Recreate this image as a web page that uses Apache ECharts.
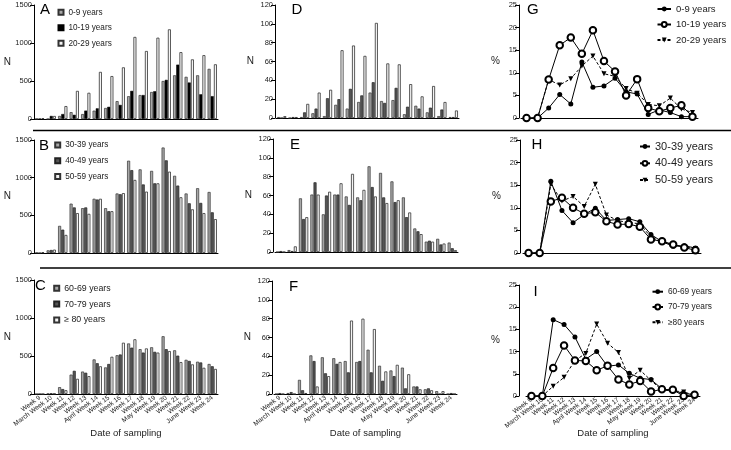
<!DOCTYPE html>
<html><head><meta charset="utf-8">
<script src="https://cdn.jsdelivr.net/npm/echarts@6/dist/echarts.min.js"></script>
<style>html,body{margin:0;padding:0;background:#fff;}#c{width:731px;height:450px;}</style>
</head><body><div id="c"></div>
<script>
const weeks = ["Week 9","March Week 10","Week 11","Week 12","Week 13","April Week 14","Week 15","Week 16","Week 17","Week 18","May Week 19","Week 20","Week 21","Week 22","June Week 23","Week 24"];

// Panel A (N)
const a0_9   = [3,0,40,90,65,110,145,235,300,315,355,500,575,555,575,660];
const a10_19 = [5,40,65,55,110,140,160,185,370,315,365,515,715,480,325,300];
const a20_29 = [10,40,170,370,345,620,565,680,1080,895,1070,1180,880,785,840,720];
// Panel B (N)
const b30_39 = [5,35,360,655,595,720,595,790,1225,1110,1090,1400,1025,790,860,810];
const b40_49 = [0,40,310,605,605,710,555,780,1100,910,925,1230,895,660,665,540];
const b50_59 = [10,45,240,530,520,720,555,795,970,815,925,1080,740,580,530,450];
// Panel C (N)
const c60_69 = [0,5,90,255,295,455,350,510,665,590,615,760,575,450,425,395];
const c70_79 = [0,10,65,305,280,405,395,520,610,545,555,590,505,435,415,365];
const c80    = [0,5,50,200,235,365,490,675,720,600,545,565,420,390,345,330];
// Panel D (N)
const d1 = [1,0,1,5,2,14,10,17,27,18,19,4,13,6,2,1];
const d2 = [0,1,6,10,21,20,31,24,38,16,32,12,10,11,9,1];
const d3 = [2,1,15,27,30,72,77,66,101,58,57,36,23,34,17,8];
// Panel E (N)
const e1 = [0,2,57,61,40,61,59,58,91,84,75,58,25,11,14,10];
const e2 = [1,1,35,74,60,61,50,55,69,58,53,37,22,12,8,4];
const e3 = [0,6,37,61,64,73,83,66,59,52,55,42,19,11,9,2];
// Panel F (N)
const f1 = [0,1,15,41,39,38,35,34,47,30,25,28,8,5,3,0];
const f2 = [1,2,4,35,22,32,23,35,23,14,19,6,8,6,0,1];
const f3 = [0,0,1,8,19,34,78,80,69,24,31,21,5,4,3,0];
// Panel G (%)
const g0_9   = [0,0,2.2,5.2,3.1,12.4,6.8,7.1,8.8,5.8,5.3,0.8,1.8,1.2,0.3,0.3];
const g10_19 = [0,0,8.5,16.1,17.8,14.2,19.4,12.6,10.3,5.0,8.6,2.2,1.5,2.2,2.8,0.3];
const g20_29 = [0,0,8.5,7.3,8.7,11.5,13.7,9.8,9.2,6.5,5.5,3.0,2.7,4.4,2.0,1.2];
// Panel H (%)
const h30_39 = [0,0,15.9,9.4,6.7,8.5,9.9,7.2,7.4,7.6,6.9,4.1,2.5,1.5,1.6,1.1];
const h40_49 = [0,0,11.4,12.2,10.0,8.7,9.0,7.0,6.3,6.4,5.8,3.0,2.6,1.9,1.2,0.6];
const h50_59 = [0,0,15.2,11.5,12.5,10.3,15.2,8.4,7.2,6.7,6.5,3.5,2.5,1.8,1.4,1.0];
// Panel I (%)
const i60_69 = [0,0,17.2,16.1,13.3,8.3,10.0,6.7,7.0,5.1,4.0,3.7,1.6,1.2,0.6,0.3];
const i70_79 = [0,0,6.3,11.4,8.0,7.9,5.8,6.8,3.7,2.6,3.4,1.0,1.5,1.4,0.0,0.3];
const i80    = [0,0,2.2,4.2,8.0,9.6,16.2,11.9,9.8,4.0,5.8,3.5,1.3,1.2,0.9,0.2];

const yTicksN = [0,1500,500];
const yTicksD = [0,120,20];
const yTicksP = [0,25,5];

const FONT = '"Liberation Sans", Arial, sans-serif';
const TXT = '#222';

const panels = [
  {k:'A', grid:{left:34,top:5,width:184,height:114}, y:yTicksN, yname:'N', nameGap:23, off:0, bottom:false},
  {k:'B', grid:{left:34,top:140,width:184,height:113}, y:yTicksN, yname:'N', nameGap:23, off:0, bottom:false},
  {k:'C', grid:{left:34,top:280,width:184,height:114}, y:yTicksN, yname:'N', nameGap:23, off:0, bottom:true},
  {k:'D', grid:{left:276,top:5,width:183,height:113}, y:yTicksD, yname:'N', nameGap:21, off:1, bottom:false},
  {k:'E', grid:{left:275,top:139,width:183,height:113}, y:yTicksD, yname:'N', nameGap:21, off:2, bottom:false},
  {k:'F', grid:{left:274,top:281,width:183,height:113}, y:yTicksD, yname:'N', nameGap:21, off:2, bottom:true},
  {k:'G', grid:{left:521,top:5,width:177,height:113}, y:yTicksP, yname:'%', nameGap:19, off:2, bottom:false},
  {k:'H', grid:{left:523,top:140,width:178,height:113}, y:yTicksP, yname:'%', nameGap:19, off:3, bottom:false},
  {k:'I', grid:{left:526,top:285,width:174,height:111}, y:yTicksP, yname:'%', nameGap:19, off:7, bottom:true}
];

const xAxes = panels.map((p,i)=>({
  gridIndex:i, type:'category', data:weeks, boundaryGap:true,
  axisLine:{lineStyle:{color:'#000',width:1}},
  axisTick:{alignWithLabel:true,length:4,lineStyle:{color:'#000'}},
  axisLabel: p.bottom ? {show:true, interval:0, rotate:37, fontSize:6.6, color:TXT, margin:3, fontFamily:FONT} : {show:false},
  splitLine:{show:false},
  name: p.bottom ? 'Date of sampling' : '', nameLocation:'middle', nameGap:(i===8?32:34), nameMoveOverlap:false,
  nameTextStyle:{fontSize:9.5,color:TXT,fontFamily:FONT}
}));
const yAxes = panels.map((p,i)=>({
  gridIndex:i, type:'value', min:p.y[0], max:p.y[1], interval:p.y[2], offset:p.off,
  axisLine:{show:true,lineStyle:{color:'#000',width:1}},
  axisTick:{show:true,length:4,lineStyle:{color:'#000'}},
  axisLabel:{fontSize:7.5,color:TXT,margin:2,fontFamily:FONT, formatter:v=>String(v)},
  splitLine:{show:false},
  name:p.yname, nameLocation:'middle', nameRotate:0, nameGap:p.nameGap, nameMoveOverlap:false,
  nameTextStyle:{fontSize:10,color:TXT,fontFamily:FONT}
}));

const C1 = {color:'#a8a8a8', borderColor:'#333', borderWidth:0.7};
const C2dark = {color:'#000', borderColor:'#000', borderWidth:0.5};
const C2 = {color:'#555', borderColor:'#222', borderWidth:0.7};
const C3 = {color:'#f4f4f4', borderColor:'#333', borderWidth:0.8};

function bar(name, data, gi, st){
  return {type:'bar', name, data, xAxisIndex:gi, yAxisIndex:gi, itemStyle:st,
    barWidth:3, barGap:'5%', barCategoryGap:'20%', silent:true};
}
function line(name, data, gi, kind){
  const s = {type:'line', name, data, xAxisIndex:gi, yAxisIndex:gi, silent:true,
    lineStyle:{color:'#000',width:1}, itemStyle:{color:'#000'}};
  if(kind===1){ s.symbol='circle'; s.symbolSize=5; s.z=3; }
  if(kind===2){ s.symbol='emptyCircle'; s.symbolSize=6.5; s.itemStyle={color:'#000',borderColor:'#000',borderWidth:1}; s.z=4; }
  if(kind===3){ s.symbol='triangle'; s.symbolRotate=180; s.symbolSize=5; s.lineStyle={color:'#000',width:1,type:[3,2]}; s.z=2; }
  return s;
}

const series = [
  bar('0-9 years', a0_9, 0, C1), bar('10-19 years', a10_19, 0, C2dark), bar('20-29 years', a20_29, 0, C3),
  bar('30-39 years', b30_39, 1, C1), bar('40-49 years', b40_49, 1, C2), bar('50-59 years', b50_59, 1, C3),
  bar('60-69 years', c60_69, 2, C1), bar('70-79 years', c70_79, 2, C2), bar('\u2265 80 years', c80, 2, C3),
  bar('D1', d1, 3, C1), bar('D2', d2, 3, C2), bar('D3', d3, 3, C3),
  bar('E1', e1, 4, C1), bar('E2', e2, 4, C2), bar('E3', e3, 4, C3),
  bar('F1', f1, 5, C1), bar('F2', f2, 5, C2), bar('F3', f3, 5, C3),
  line('0-9 years ', g0_9, 6, 1), line('10-19 years ', g10_19, 6, 2), line('20-29 years ', g20_29, 6, 3),
  line('30-39 years ', h30_39, 7, 1), line('40-49 years ', h40_49, 7, 2), line('50-59 years ', h50_59, 7, 3),
  line('60-69 years ', i60_69, 8, 1), line('70-79 years ', i70_79, 8, 2), line('\u226580 years', i80, 8, 3)
];

function barLegend(names, left, top, gap, fs, textGap){
  return {data:names, orient:'vertical', left, top, padding:0, itemGap:gap, icon:'rect',
    itemWidth:5, itemHeight:5, itemTextGap:textGap, selectedMode:false,
    textStyle:{fontSize:fs, color:TXT, lineHeight:10, fontFamily:FONT}};
}
function lineLegend(names, left, top, gap, fs, w, textGap){
  return {data:names, orient:'vertical', left, top, padding:0, itemGap:gap,
    itemWidth:w, itemHeight:6, itemTextGap:textGap, selectedMode:false,
    textStyle:{fontSize:fs, color:TXT, lineHeight:10, fontFamily:FONT}};
}

const legends = [
  barLegend(['0-9 years','10-19 years','20-29 years'], 57.5, 7.3, 5.5, 8.2, 9),
  barLegend(['30-39 years','40-49 years','50-59 years'], 54.2, 140, 5.8, 8.2, 11.5),
  barLegend(['60-69 years','70-79 years','\u2265 80 years'], 53.2, 283.3, 5.8, 8.8, 8.5),
  lineLegend(['0-9 years ','10-19 years ','20-29 years '], 656.5, 4, 5.5, 9.5, 13.5, 3),
  lineLegend(['30-39 years ','40-49 years ','50-59 years '], 639, 141, 5.8, 11, 10, 2.5),
  lineLegend(['60-69 years ','70-79 years ','\u226580 years'], 651.5, 286.7, 5.3, 8.3, 10.5, 6.5)
];

const letters = [
  {t:'A',x:40,y:2},{t:'B',x:39,y:138.5},{t:'C',x:35,y:278},
  {t:'D',x:291.5,y:2},{t:'E',x:290,y:137},{t:'F',x:289,y:279},
  {t:'G',x:527,y:2},{t:'H',x:531.5,y:137},{t:'I',x:533.5,y:284}
];

const option = {
  animation:false,
  backgroundColor:'#fff',
  textStyle:{fontFamily:FONT},
  title: letters.map(l=>({text:l.t, left:l.x, top:l.y, padding:0,
    textStyle:{fontSize:15, fontWeight:'normal', color:'#000', fontFamily:FONT}})),
  legend: legends,
  grid: panels.map(p=>Object.assign({containLabel:false}, p.grid)),
  xAxis: xAxes,
  yAxis: yAxes,
  series,
  graphic:[
    {type:'line', shape:{x1:33,y1:130.5,x2:731,y2:130.5}, style:{stroke:'#000',lineWidth:1.3}, silent:true},
    {type:'line', shape:{x1:40,y1:268,x2:731,y2:268}, style:{stroke:'#000',lineWidth:1.3}, silent:true}
  ]
};

const chart = echarts.init(document.getElementById('c'), null, {renderer:'canvas'});
chart.setOption(option);
</script>
</body></html>
